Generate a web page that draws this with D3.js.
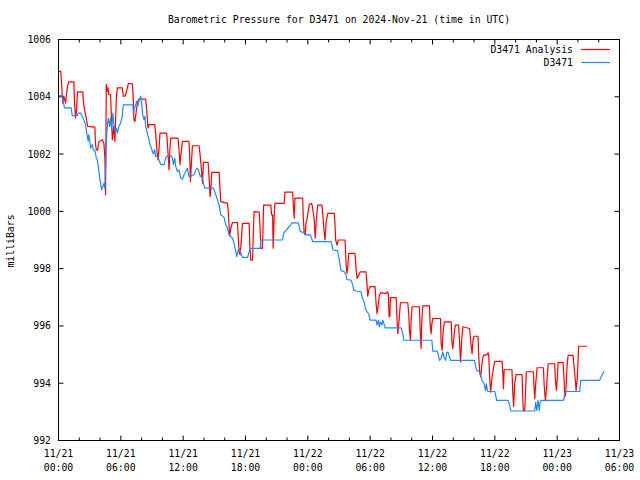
<!DOCTYPE html>
<html><head><meta charset="utf-8">
<script src="https://cdn.jsdelivr.net/npm/d3@7"></script>
<style>body{margin:0;background:#fff}</style>
</head><body>
<svg id="c" width="640" height="480"></svg>
<script>
// [hours since 2024-11-21 00:00 UTC, pressure in milliBars]
const analysis = [[0.03,1004.89],[0.22,1004.89],[0.41,1003.78],[0.51,1004.02],[0.68,1003.78],[0.77,1004.08],[0.87,1004.37],[0.99,1004.52],[1.48,1004.52],[1.54,1003.78],[1.64,1003.26],[1.71,1003.43],[1.83,1004.17],[2.34,1004.17],[2.41,1003.78],[2.54,1003.49],[2.67,1003.26],[2.80,1002.97],[3.50,1002.94],[3.57,1002.33],[3.64,1002.15],[3.76,1002.13],[3.89,1002.44],[4.21,1002.50],[4.37,1002.38],[4.46,1001.92],[4.53,1000.58],[4.60,1004.43],[4.70,1004.19],[4.75,1004.31],[4.85,1004.08],[5.01,1004.08],[5.18,1002.50],[5.33,1002.97],[5.43,1002.44],[5.56,1003.90],[5.66,1004.31],[6.14,1004.31],[6.24,1004.02],[6.43,1004.02],[6.72,1004.46],[7.11,1004.46],[7.20,1003.90],[7.26,1003.20],[7.36,1003.14],[7.59,1003.78],[7.74,1003.92],[8.39,1003.92],[8.49,1003.55],[8.61,1002.91],[8.71,1003.03],[9.26,1003.03],[9.35,1002.73],[9.52,1001.92],[9.58,1001.80],[9.67,1002.15],[9.77,1002.73],[10.41,1002.73],[10.48,1002.38],[10.64,1001.45],[10.73,1002.21],[10.80,1002.56],[11.50,1002.56],[11.60,1002.15],[11.70,1001.63],[11.76,1001.92],[11.93,1002.44],[12.56,1002.44],[12.63,1001.92],[12.70,1001.04],[12.80,1001.74],[12.89,1002.29],[13.53,1002.29],[13.63,1001.98],[13.76,1001.45],[13.86,1000.98],[13.95,1001.71],[14.40,1001.71],[14.49,1001.22],[14.59,1000.52],[14.66,1000.75],[14.75,1001.36],[15.46,1001.36],[15.55,1000.75],[15.62,1000.34],[16.27,1000.28],[16.36,999.88],[16.47,999.14],[16.59,999.42],[16.75,999.61],[17.23,999.61],[17.29,999.18],[17.38,998.59],[17.48,998.48],[17.55,998.77],[17.71,999.58],[18.35,999.58],[18.42,998.77],[18.51,998.30],[18.68,998.30],[18.77,999.47],[18.83,999.99],[19.32,999.97],[19.41,999.35],[19.48,998.71],[19.64,998.71],[19.74,1000.22],[20.44,1000.22],[20.51,999.88],[20.61,999.88],[20.66,998.71],[20.76,999.82],[20.83,1000.28],[21.73,1000.28],[21.79,1000.67],[22.54,1000.67],[22.63,1000.05],[22.69,999.76],[22.76,1000.46],[23.50,1000.46],[23.56,999.82],[23.65,999.23],[23.75,999.18],[23.82,999.58],[23.91,999.70],[24.14,1000.25],[24.37,1000.28],[24.46,1000.11],[24.62,999.70],[24.71,999.06],[24.81,999.70],[24.95,1000.22],[25.36,1000.22],[25.43,999.93],[25.55,999.35],[25.65,999.00],[25.75,999.58],[25.91,999.93],[26.55,999.93],[26.61,999.58],[26.68,999.00],[26.81,998.82],[26.93,999.00],[27.58,999.00],[27.68,998.18],[27.77,997.83],[27.84,998.07],[27.94,998.53],[28.54,998.53],[28.64,998.01],[28.74,997.66],[28.90,997.78],[29.05,997.89],[29.60,997.89],[29.67,997.60],[29.77,997.04],[29.86,997.25],[29.99,997.37],[30.47,997.37],[30.57,996.78],[30.66,996.43],[30.79,996.78],[30.89,997.08],[31.05,997.16],[31.53,997.13],[31.63,997.19],[31.75,997.13],[31.82,996.32],[31.89,996.32],[31.95,996.99],[32.50,996.99],[32.59,996.20],[32.66,995.73],[32.76,996.08],[32.91,996.81],[33.62,996.81],[33.72,996.38],[33.78,995.85],[33.88,995.50],[33.94,996.20],[34.04,996.67],[34.74,996.67],[34.81,995.85],[34.90,995.21],[34.97,996.20],[35.07,996.70],[35.71,996.70],[35.77,996.08],[35.87,995.73],[35.94,996.08],[36.03,996.26],[36.77,996.26],[36.83,995.38],[36.93,995.15],[37.03,995.85],[37.15,996.14],[37.80,996.14],[37.87,995.44],[37.96,995.21],[38.06,995.62],[38.19,996.03],[38.51,996.03],[38.60,995.50],[38.70,994.74],[38.83,995.62],[38.93,995.97],[39.57,995.91],[39.67,995.50],[39.81,995.03],[39.90,995.50],[40.00,995.64],[40.38,995.64],[40.44,995.03],[40.54,994.39],[40.64,994.22],[40.70,994.45],[40.80,994.80],[40.90,994.97],[41.28,995.00],[41.35,995.06],[41.41,994.97],[41.50,994.22],[41.60,993.69],[41.73,994.22],[41.86,994.51],[41.99,994.76],[42.70,994.76],[42.77,994.33],[42.83,993.81],[42.90,994.47],[43.65,994.47],[43.72,993.75],[43.81,993.19],[43.91,993.98],[44.05,994.30],[44.62,994.30],[44.68,993.58],[44.74,993.03],[44.87,993.05],[44.94,993.52],[45.03,994.40],[45.71,994.40],[45.77,993.87],[45.84,993.46],[45.93,993.98],[46.07,994.54],[46.68,994.54],[46.74,993.98],[46.87,993.38],[47.00,993.98],[47.13,994.68],[47.76,994.68],[47.83,994.10],[47.93,993.75],[48.02,994.22],[48.09,994.72],[48.57,994.72],[48.67,994.10],[48.72,993.52],[48.82,993.64],[48.95,994.57],[49.05,994.97],[49.53,994.97],[49.63,994.57],[49.75,994.10],[49.82,993.75],[49.92,994.10],[50.02,994.86],[50.07,995.29],[50.88,995.29]];

const observed = [[0.03,1004.04],[0.36,1004.04],[0.41,1003.90],[0.58,1003.61],[1.22,1003.61],[1.32,1003.34],[1.80,1003.34],[1.90,1003.43],[2.12,1003.43],[2.44,1003.20],[2.60,1003.03],[2.77,1002.62],[2.86,1002.44],[2.92,1002.68],[3.02,1002.44],[3.09,1002.21],[3.25,1002.33],[3.35,1002.15],[3.50,1002.13],[3.64,1001.86],[3.73,1001.80],[3.83,1001.57],[3.95,1001.22],[4.05,1000.98],[4.15,1000.75],[4.27,1000.87],[4.37,1000.98],[4.46,1000.81],[4.53,1001.45],[4.60,1002.38],[4.70,1002.97],[4.79,1003.26],[4.92,1002.97],[5.01,1003.26],[5.11,1002.85],[5.24,1003.43],[5.33,1003.03],[5.43,1002.79],[5.56,1002.91],[5.66,1002.73],[5.81,1002.97],[5.98,1003.08],[6.14,1003.32],[6.24,1003.72],[7.16,1003.72],[7.20,1003.43],[7.33,1003.61],[7.43,1003.72],[7.52,1003.84],[7.65,1003.69],[7.78,1003.90],[7.91,1004.02],[8.00,1003.78],[8.10,1003.38],[8.23,1003.20],[8.32,1003.32],[8.39,1002.97],[8.55,1002.73],[8.71,1002.50],[8.80,1002.33],[8.94,1002.21],[9.04,1002.09],[9.13,1002.01],[9.26,1002.15],[9.35,1001.92],[9.52,1001.92],[9.67,1001.80],[9.84,1001.63],[10.15,1001.63],[10.32,1001.86],[10.48,1001.95],[10.80,1001.95],[10.96,1001.86],[11.06,1001.63],[11.19,1001.86],[11.28,1001.57],[11.45,1001.39],[11.60,1001.45],[11.76,1001.16],[11.93,1001.12],[12.08,1001.28],[12.25,1001.39],[12.41,1001.51],[12.56,1001.22],[12.73,1001.24],[13.05,1001.28],[13.21,1001.45],[13.37,1001.51],[13.53,1001.39],[13.63,1001.22],[13.76,1001.24],[13.86,1001.16],[13.95,1000.98],[14.08,1000.81],[14.92,1000.81],[14.98,1000.75],[15.14,1000.58],[15.30,1000.40],[15.46,1000.22],[15.62,999.88],[15.94,999.79],[16.10,999.53],[16.27,999.41],[16.42,999.18],[16.59,999.12],[16.75,999.06],[16.85,998.94],[16.97,998.77],[17.07,998.59],[17.16,998.42],[17.29,998.65],[17.38,998.71],[17.48,998.63],[17.62,998.48],[17.71,998.39],[18.20,998.39],[18.35,998.59],[18.45,998.71],[19.41,998.71],[19.48,999.00],[21.57,999.00],[21.67,999.23],[21.79,999.29],[21.92,999.35],[22.06,999.41],[22.22,999.47],[22.38,999.53],[22.47,999.60],[23.08,999.60],[23.17,999.47],[23.27,999.29],[23.72,999.26],[23.84,999.18],[24.23,999.18],[24.37,999.06],[24.46,998.94],[26.23,998.94],[26.33,998.82],[26.42,998.65],[26.87,998.63],[26.93,998.48],[27.03,998.30],[27.13,998.07],[27.19,997.93],[27.51,997.89],[27.68,997.78],[27.75,997.62],[28.16,997.60],[28.32,997.43],[28.42,997.25],[28.64,997.22],[29.12,997.19],[29.22,997.02],[29.35,996.90],[29.44,996.81],[29.54,996.61],[29.70,996.49],[29.86,996.43],[29.99,996.20],[30.57,996.20],[30.66,996.03],[30.79,996.20],[30.89,995.97],[30.98,996.14],[31.12,996.03],[31.22,996.20],[31.32,996.08],[31.44,995.93],[32.98,995.93],[33.14,995.73],[33.24,995.50],[35.94,995.50],[36.03,995.12],[36.45,995.12],[36.57,994.98],[36.67,994.80],[36.83,994.86],[36.99,995.09],[37.09,994.92],[37.25,994.80],[37.38,995.09],[37.53,995.06],[37.63,994.92],[37.73,994.80],[40.05,994.80],[40.12,994.63],[40.25,994.45],[40.54,994.39],[40.64,994.28],[40.74,994.12],[40.87,994.04],[40.97,993.98],[41.10,993.75],[41.19,993.98],[41.28,993.73],[41.41,993.71],[41.99,993.71],[42.08,993.58],[42.18,993.40],[43.28,993.40],[43.43,993.23],[43.53,993.03],[45.84,993.03],[45.94,993.34],[46.04,993.05],[46.17,993.40],[46.27,993.05],[46.36,993.34],[46.49,993.40],[48.57,993.40],[48.67,993.46],[48.72,993.64],[48.82,993.71],[50.17,993.71],[50.27,994.10],[52.09,994.10],[52.26,994.24],[52.42,994.36],[52.51,994.42]];

const xTickHours = [0,6,12,18,24,30,36,42,48,54];
const xTickDates = ["11/21","11/21","11/21","11/21","11/22","11/22","11/22","11/22","11/23","11/23"];
const xTickTimes = ["00:00","06:00","12:00","18:00","00:00","06:00","12:00","18:00","00:00","06:00"];
const xMinorHours = [2,4,8,10,14,16,20,22,26,28,32,34,38,40,44,46,50,52];
const yTicks = [992,994,996,998,1000,1002,1004,1006];
const seriesNames = ["D3471 Analysis","D3471"];
const titleText = "Barometric Pressure for D3471 on 2024-Nov-21 (time in UTC)";
const yLabel = "milliBars";

const W = 640, H = 480, L = 58.5, R = 619.5, T = 39.5, B = 440.5;
const colors = ["#ff0000", "#1a8cff"];
const font = "'DejaVu Sans Mono', monospace";

const svg = d3.select("#c");
svg.append("rect").attr("width", W).attr("height", H).attr("fill", "#fff");

const x = d3.scaleLinear().domain([0, 54]).range([L, R]);
const y = d3.scaleLinear().domain([992, 1006]).range([B, T]);

function axisG(axis, tx, ty) {
  const g = svg.append("g").attr("transform", `translate(${tx},${ty})`)
    .style("color", "#000").call(axis);
  g.select(".domain").remove();
  g.selectAll("text").remove();
  g.selectAll("line").attr("stroke-width", 1);
  return g;
}
axisG(d3.axisBottom(x).tickValues(xTickHours).tickSize(-5).offset(0), 0, B);
axisG(d3.axisBottom(x).tickValues(xMinorHours).tickSize(-3).offset(0), 0, B);
axisG(d3.axisTop(x).tickValues(xTickHours).tickSize(-5).offset(0), 0, T);
axisG(d3.axisTop(x).tickValues(xMinorHours).tickSize(-3).offset(0), 0, T);
axisG(d3.axisLeft(y).tickValues(yTicks).tickSize(-5).offset(0), L, 0);
axisG(d3.axisRight(y).tickValues(yTicks).tickSize(-5).offset(0), R, 0);

// frame
svg.append("rect").attr("x", L).attr("y", T).attr("width", R - L).attr("height", B - T)
  .attr("fill", "none").attr("stroke", "#000").attr("stroke-width", 1);

// tick labels
const txt = (sel) => sel.attr("font-family", font).attr("font-size", "9.8px").attr("fill", "#000");
yTicks.forEach(v => {
  svg.append("text").call(txt).attr("x", L - 7.5).attr("y", y(v) + 3.5)
    .attr("text-anchor", "end").text(String(v));
});
xTickHours.forEach((h, i) => {
  svg.append("text").call(txt).attr("x", x(h)).attr("y", 457).attr("text-anchor", "middle").text(xTickDates[i]);
  svg.append("text").call(txt).attr("x", x(h)).attr("y", 471).attr("text-anchor", "middle").text(xTickTimes[i]);
});

// title & y label
svg.append("text").call(txt).attr("x", (L + R) / 2).attr("y", 23).attr("text-anchor", "middle").text(titleText);
svg.append("text").call(txt).attr("transform", "translate(14,241) rotate(-90)")
  .attr("text-anchor", "middle").text(yLabel);

// series
const line = d3.line().x(d => x(d[0])).y(d => y(d[1]));
[analysis, observed].forEach((data, i) => {
  svg.append("path").datum(data).attr("d", line).attr("fill", "none")
    .attr("stroke", colors[i]).attr("stroke-width", 1.2).attr("stroke-linejoin", "round");
});

// legend
const legY = [49.5, 62.5];
seriesNames.forEach((n, i) => {
  svg.append("text").call(txt).attr("x", 573).attr("y", legY[i] + 3.5).attr("text-anchor", "end").text(n);
  svg.append("line").attr("x1", 581).attr("x2", 610).attr("y1", legY[i]).attr("y2", legY[i])
    .attr("stroke", colors[i]).attr("stroke-width", 1.2);
});
</script>
</body></html>
